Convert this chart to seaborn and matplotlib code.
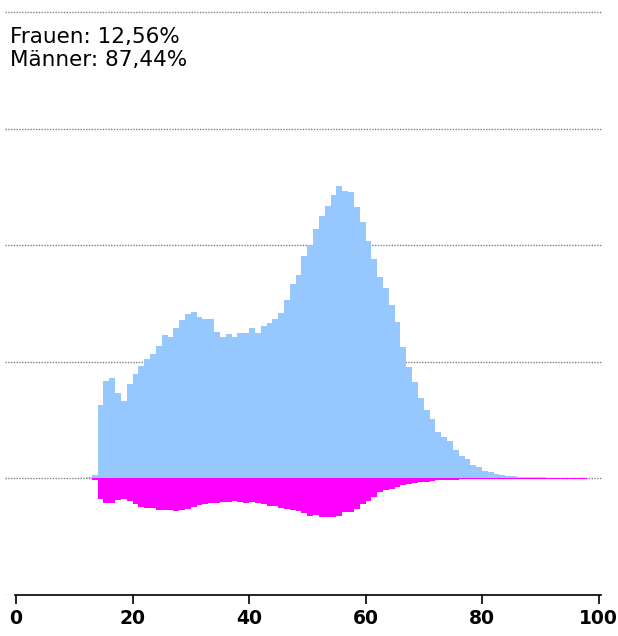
"""
Age distribution by gender (men up, women down), percent of total.
"""

import matplotlib
matplotlib.use('Agg')
import matplotlib.pyplot as plt  # noqa: E402
import seaborn as sns  # noqa: E402
import pandas as pd  # noqa: E402

ages = list(range(12, 98))

men = [
    0.008, 0.030, 0.627, 0.832, 0.858, 0.732, 0.663, 0.809, 0.892, 0.963,
    1.026, 1.063, 1.134, 1.229, 1.214, 1.291, 1.357, 1.408, 1.425, 1.385,
    1.363, 1.366, 1.252, 1.209, 1.235, 1.214, 1.243, 1.248, 1.286, 1.248,
    1.306, 1.334, 1.366, 1.420, 1.528, 1.665, 1.742, 1.905, 2.002, 2.142,
    2.250, 2.336, 2.427, 2.507, 2.462, 2.453, 2.327, 2.202, 2.033, 1.882,
    1.731, 1.634, 1.483, 1.343, 1.126, 0.955, 0.829, 0.686, 0.586, 0.509,
    0.401, 0.353, 0.325, 0.241, 0.190, 0.170, 0.113, 0.098, 0.067, 0.053,
    0.039, 0.030, 0.021, 0.019, 0.016, 0.014, 0.012, 0.009, 0.008, 0.006,
    0.005, 0.004, 0.004, 0.003, 0.003, 0.002,
]

women = [
    0.000, 0.012, 0.173, 0.213, 0.213, 0.184, 0.178, 0.198, 0.221, 0.241,
    0.250, 0.256, 0.273, 0.270, 0.270, 0.276, 0.273, 0.261, 0.247, 0.227,
    0.221, 0.213, 0.207, 0.204, 0.204, 0.193, 0.204, 0.207, 0.204, 0.213,
    0.221, 0.233, 0.236, 0.250, 0.264, 0.273, 0.278, 0.298, 0.321, 0.318,
    0.335, 0.335, 0.335, 0.321, 0.290, 0.285, 0.264, 0.221, 0.190, 0.156,
    0.113, 0.100, 0.087, 0.075, 0.060, 0.048, 0.042, 0.035, 0.028, 0.022,
    0.017, 0.013, 0.010, 0.010, 0.009, 0.008, 0.008, 0.006, 0.006, 0.005,
    0.005, 0.005, 0.004, 0.004, 0.004, 0.004, 0.003, 0.003, 0.003, 0.003,
    0.003, 0.002, 0.002, 0.002, 0.002, 0.002,
]

labels = ['Frauen: 12,56%', 'Männer: 87,44%']
x_ticks = [0, 20, 40, 60, 80, 100]

df = pd.DataFrame({'age': ages, 'men': men,
                   'women': [-v for v in women]})

sns.set_theme(style='white')
plt.rcParams['font.family'] = ['DejaVu Sans']

W, H = 618, 636
fig = plt.figure(figsize=(W / 100, H / 100), dpi=100)
# axes: x from px 5 to 602, y from px 595 (value -1) up to ~6 (4.05)
ax = fig.add_axes([5 / W, 41 / H, 597 / W, 588.8 / H])

sns.histplot(data=df, x='age', weights='men', binwidth=1,
             binrange=(ages[0], ages[-1] + 1),
             color='#96c8ff', alpha=1, linewidth=0, ax=ax)
sns.histplot(data=df, x='age', weights='women', binwidth=1,
             binrange=(ages[0], ages[-1] + 1),
             color='#ff00ff', alpha=1, linewidth=0, ax=ax)

ax.set_xlim(-1.9, 100.6)
ax.set_ylim(-1.0, 4.05)
ax.set_yticks([-1, 0, 1, 2, 3, 4])
ax.set_yticklabels([])
ax.set_xticks(x_ticks)
ax.set_xticklabels([str(t) for t in x_ticks], fontsize=13.5,
                   fontweight='bold')
ax.set_xlabel('')
ax.set_ylabel('')
ax.grid(True, axis='y', linestyle=(0, (1, 1)), color='#808080',
        linewidth=1)
ax.grid(False, axis='x')
ax.set_axisbelow(True)

for side in ['top', 'left', 'right']:
    ax.spines[side].set_visible(False)
ax.spines['bottom'].set_color('black')
ax.spines['bottom'].set_linewidth(1.2)
ax.spines['bottom'].set_bounds(-0.15, 100.45)
ax.tick_params(axis='x', bottom=True, length=6.5, width=1.2,
               color='black', pad=3.5, labelcolor='black')
ax.tick_params(axis='y', left=False, length=0)

fig.text(10 / W, 1 - 43 / H, labels[0], fontsize=15.5,
         va='baseline', ha='left', color='black')
fig.text(10 / W, 1 - 66 / H, labels[1], fontsize=15.5,
         va='baseline', ha='left', color='black')

plt.savefig('out.png', dpi=100)
plt.close()
